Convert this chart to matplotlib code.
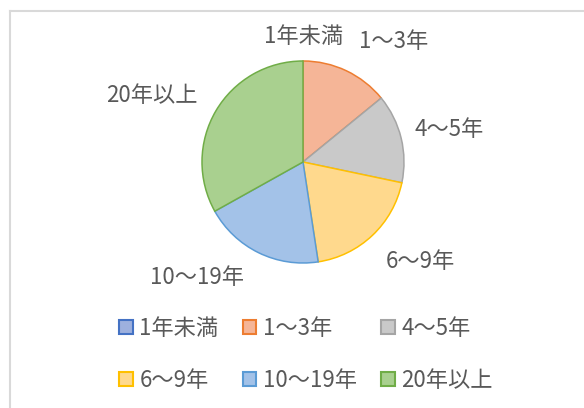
import matplotlib
matplotlib.use("Agg")
import matplotlib.pyplot as plt
from matplotlib.patches import Patch
from matplotlib.lines import Line2D

plt.rcParams['font.family'] = ['Noto Sans CJK JP', 'DejaVu Sans']

# data (percent)
categories = ["1年未満", "1～3年", "4～5年", "6～9年", "10～19年", "20年以上"]
values = [0, 14.1, 14.2, 19.3, 19.3, 33.1]

edge_colors = ["#4472C4", "#ED7D31", "#A5A5A5", "#FFC000", "#5B9BD5", "#70AD47"]
fill_colors = ["#9DB0DE", "#F5B597", "#C9C9C9", "#FFD98D", "#A3C2E8", "#A9D08F"]

# label positions outside the pie (in radius units)
label_pos = [(0.01, 1.24), (0.90, 1.19), (1.45, 0.32),
             (1.16, -0.99), (-1.05, -1.14), (-1.50, 0.66)]

text_color = "#595959"

fig = plt.figure(figsize=(5.84, 4.08), dpi=100)

# chart border (light gray, on left and top)
fig.add_artist(Line2D([10 / 584, 10 / 584], [0, 1 - 11 / 408], transform=fig.transFigure,
                      color="#D9D9D9", lw=1.5))
fig.add_artist(Line2D([10 / 584, 1], [1 - 11 / 408, 1 - 11 / 408], transform=fig.transFigure,
                      color="#D9D9D9", lw=1.5))

ax = fig.add_axes([202 / 584, 145 / 408, 202 / 584, 202 / 408])
wedges, texts = ax.pie(values, labels=categories, colors=fill_colors,
                       startangle=90, counterclock=False, radius=1,
                       wedgeprops=dict(linewidth=1.1),
                       textprops=dict(color=text_color, fontsize=16))
for w, ec in zip(wedges, edge_colors):
    w.set_edgecolor(ec)
for t, (x, y) in zip(texts, label_pos):
    t.set_position((x, y))
    t.set_ha("center")
    t.set_va("center")
ax.set_xlim(-1, 1)
ax.set_ylim(-1, 1)
ax.set_aspect("auto")
ax.axis("off")

handles = [Patch(facecolor=fc, edgecolor=ec, linewidth=1.5)
           for fc, ec in zip(fill_colors, edge_colors)]
# legend fills by column, reorder so that it reads row by row
order = [0, 3, 1, 4, 2, 5]
fig.legend([handles[i] for i in order], [categories[i] for i in order],
           loc="center", bbox_to_anchor=(0.524, 0.132),
           ncol=3, frameon=False, fontsize=16, labelcolor=text_color,
           handlelength=0.6, handleheight=0.6, handletextpad=0.3,
           columnspacing=1.1, labelspacing=1.3)

fig.savefig("out.png", dpi=100)
